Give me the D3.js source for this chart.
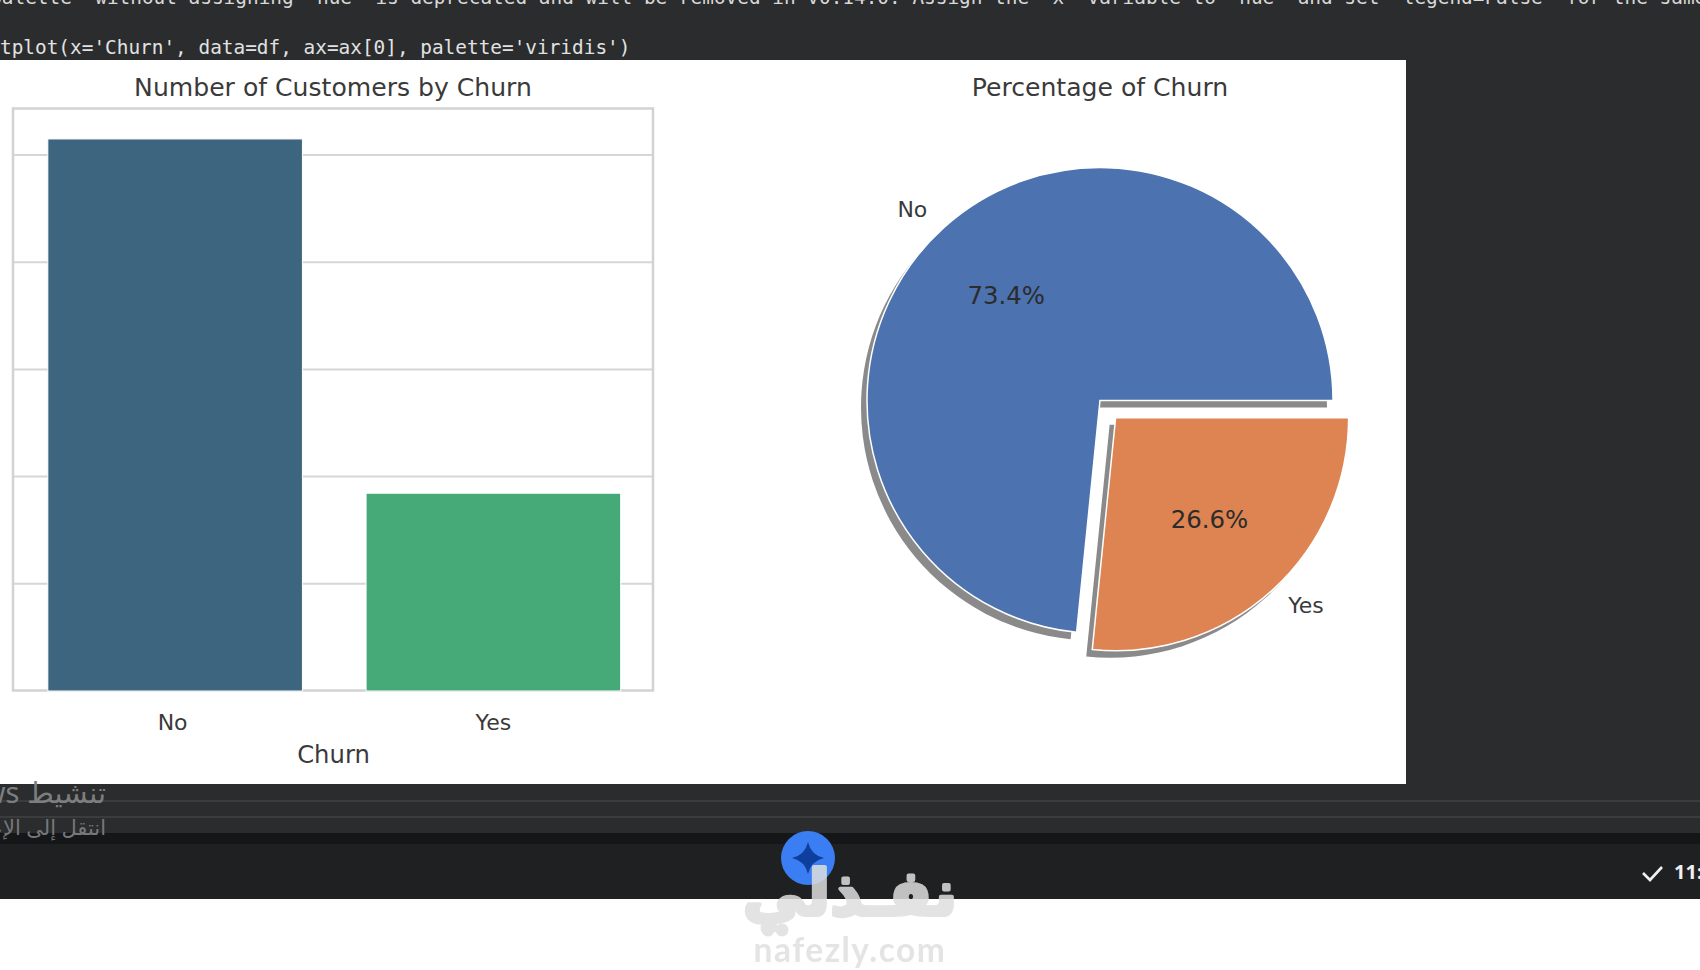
<!DOCTYPE html>
<html><head><meta charset="utf-8">
<script src="https://cdn.jsdelivr.net/npm/d3@7"></script>
<style>html,body{margin:0;padding:0;background:#fff;overflow:hidden}svg{display:block;filter:blur(0.55px)}</style>
</head><body><svg id="c" width="1700" height="970"></svg>
<script>
const barCategories = ["No", "Yes"];
const barValues = [5150, 1845];
const barColors = ["#3e6580", "#46a978"];
const yTicks = [0, 1000, 2000, 3000, 4000, 5000];
const pieLabels = ["No", "Yes"];
const pieValues = [73.4, 26.6];
const pieColors = ["#4c72b0", "#dd8452"];
const pieExplode = [0, 0.1];
const titles = ["Number of Customers by Churn", "Percentage of Churn"];
const xAxisTitle = "Churn";
const codeLines = ["plotlib: Passing `palette` without assigning `hue` is deprecated and will be removed in v0.14.0. Assign the `x` variable to `hue` and set `legend=False` for the same effect.",
  "tplot(x='Churn', data=df, ax=ax[0], palette='viridis')"];

const svg = d3.select("#c");
const font = "'DejaVu Sans', sans-serif";
const ink = "#3a3a3a";

// screenshot chrome
svg.append("rect").attr("width",1700).attr("height",899).attr("fill","#2b2c2d");
svg.append("rect").attr("y",833).attr("width",1700).attr("height",11).attr("fill","#151617");
svg.append("rect").attr("y",844).attr("width",1700).attr("height",55).attr("fill","#1f2022");
[801,817].forEach(y=>svg.append("line").attr("x1",0).attr("x2",1700).attr("y1",y).attr("y2",y).attr("stroke","#414243").attr("stroke-width",1.5));
svg.append("rect").attr("y",60).attr("width",1406).attr("height",724).attr("fill","#fff");
svg.append("text").attr("x",-220).attr("y",4).attr("font-family","'DejaVu Sans Mono', monospace").attr("font-size",19.4).attr("fill","#d8d8d8").text(codeLines[0]);
svg.append("text").attr("x",0).attr("y",54).attr("font-family","'DejaVu Sans Mono', monospace").attr("font-size",19.4).attr("fill","#e2e2e2").text(codeLines[1]);

// bar chart
const fx = {l:13,r:653,t:108.5,b:690.5};
const x = d3.scaleBand().domain(barCategories).range([16,652.5]).paddingInner(0.2).paddingOuter(0.1);
const y = d3.scaleLinear().domain([0,5434]).range([fx.b+0.5,fx.t]);
const gb = svg.append("g");
gb.selectAll("line.grid").data(yTicks.slice(1)).join("line").attr("class","grid")
  .attr("x1",fx.l).attr("x2",fx.r).attr("y1",d=>y(d)).attr("y2",d=>y(d)).attr("stroke","#d6d6d6").attr("stroke-width",2);
gb.append("rect").attr("x",fx.l).attr("y",fx.t).attr("width",fx.r-fx.l).attr("height",fx.b-fx.t).attr("fill","none").attr("stroke","#d2d2d2").attr("stroke-width",2.5);
gb.selectAll("rect.bar").data(barCategories).join("rect").attr("class","bar")
  .attr("x",d=>x(d)).attr("width",x.bandwidth()).attr("y",(d,i)=>y(barValues[i])).attr("height",(d,i)=>y(0)-y(barValues[i]))
  .attr("fill",(d,i)=>barColors[i]).attr("stroke","#fff").attr("stroke-width",1);
gb.selectAll("text.tick").data(barCategories).join("text").attr("class","tick")
  .attr("x",(d,i)=>x(d)+x.bandwidth()/2-(i?0:2.5)).attr("y",730).attr("text-anchor","middle").attr("font-family",font).attr("font-size",22).attr("fill",ink).text(d=>d);
gb.append("text").attr("x",333.5).attr("y",763).attr("text-anchor","middle").attr("font-family",font).attr("font-size",24.3).attr("fill",ink).text(xAxisTitle);
gb.append("text").attr("x",333).attr("y",96).attr("text-anchor","middle").attr("font-family",font).attr("font-size",25.1).attr("fill",ink).text(titles[0]);

// pie
const cx=1100, cy=400.5, R=233;
const pie = d3.pie().sort(null).startAngle(Math.PI/2).endAngle(Math.PI/2-2*Math.PI);
const arcs = pie(pieValues);
const arc = d3.arc().innerRadius(0).outerRadius(R);
const arcL = d3.arc().innerRadius(R*1.105).outerRadius(R*1.105);
const arcP = d3.arc().innerRadius(R*0.6).outerRadius(R*0.6);
function off(a,i){const m=(a.startAngle+a.endAngle)/2;return [Math.sin(m)*R*pieExplode[i],-Math.cos(m)*R*pieExplode[i]];}
const gp = svg.append("g").attr("transform",`translate(${cx},${cy})`);
gp.selectAll("path.sh").data(arcs).join("path").attr("class","sh").attr("d",arc).attr("fill","#8a8a8a")
  .attr("transform",(a,i)=>{const o=off(a,i);return `translate(${o[0]-6},${o[1]+7})`;});
gp.selectAll("path.w").data(arcs).join("path").attr("class","w").attr("d",arc).attr("fill",(a,i)=>pieColors[i])
  .attr("stroke","#fff").attr("stroke-width",1.5)
  .attr("transform",(a,i)=>{const o=off(a,i);return `translate(${o[0]},${o[1]})`;});
gp.selectAll("text.l").data(arcs).join("text").attr("class","l").each(function(a,i){
  const c=arcL.centroid(a),o=off(a,i);
  d3.select(this).attr("x",c[0]+o[0]).attr("y",c[1]+o[1]+(i?4:7)).attr("text-anchor",c[0]<0?"end":"start");
}).attr("font-family",font).attr("font-size",22).attr("fill",ink).text((a,i)=>pieLabels[i]);
gp.selectAll("text.p").data(arcs).join("text").attr("class","p").each(function(a,i){
  const c=arcP.centroid(a),o=off(a,i);
  d3.select(this).attr("x",c[0]+o[0]).attr("y",c[1]+o[1]+7);
}).attr("text-anchor","middle").attr("font-family",font).attr("font-size",24.4).attr("fill","#2b2b2b").text((a,i)=>pieValues[i].toFixed(1)+"%");
svg.append("text").attr("x",1100).attr("y",96).attr("text-anchor","middle").attr("font-family",font).attr("font-size",25.1).attr("fill",ink).text(titles[1]);

// overlay texts
svg.append("text").attr("x",106).attr("y",803).attr("direction","rtl").attr("font-family","'Noto Sans','DejaVu Sans',sans-serif").attr("font-size",29).attr("fill","#7d7e7f").text("تنشيط Windows");
svg.append("text").attr("x",106).attr("y",835).attr("direction","rtl").attr("font-family","'Noto Sans','DejaVu Sans',sans-serif").attr("font-size",21).attr("fill","#77787a").text("انتقل إلى الإعدادات");
svg.append("path").attr("d","M1643 873 L1650 880 L1662 867").attr("fill","none").attr("stroke","#f0f0f0").attr("stroke-width",2.6);
svg.append("text").attr("x",1674).attr("y",879).attr("font-family","'Noto Sans',sans-serif").attr("font-weight",700).attr("font-size",20).attr("fill","#f0f0f0").text("11:");

// badge + watermark
svg.append("circle").attr("cx",808).attr("cy",858).attr("r",27).attr("fill","#3b7df2");
svg.append("path").attr("d","M808 842 Q811 855 824 858 Q811 861 808 874 Q805 861 792 858 Q805 855 808 842Z").attr("fill","#0f3f9e");
const wm = svg.append("g").attr("opacity",0.85).attr("fill","#dedede").attr("stroke","#dedede");
wm.append("text").attr("x",850).attr("y",915).attr("text-anchor","middle").attr("direction","rtl").attr("font-family","'DejaVu Sans',sans-serif").attr("font-weight",700).attr("font-size",63).attr("stroke-width",4).attr("stroke-linejoin","round").text("نفـذلي");
[768,782].forEach(cxd=>wm.append("circle").attr("cx",cxd).attr("cy",930).attr("r",6.5).attr("stroke","none"));
svg.append("text").attr("x",850).attr("y",962).attr("text-anchor","middle").attr("font-family","Lato,sans-serif").attr("font-weight",700).attr("font-size",33.5).attr("letter-spacing",1.5).attr("fill","#e4e4e4").text("nafezly.com");
</script></body></html>
